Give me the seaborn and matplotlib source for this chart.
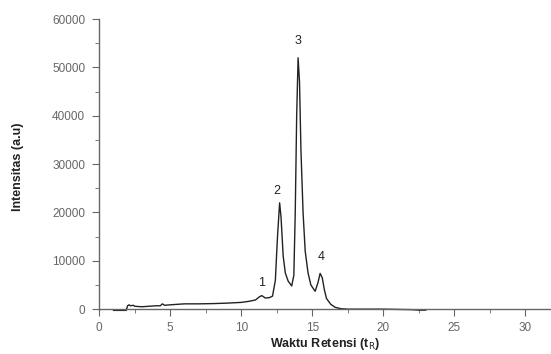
import numpy as np
import matplotlib
matplotlib.use("Agg")
import matplotlib.pyplot as plt
import seaborn as sns
from matplotlib.ticker import MultipleLocator

# retention time (min) and intensity (a.u)
waktu = [1.0, 1.9, 2.0, 2.1, 2.2, 2.4, 2.5, 3.0, 3.5, 4.0, 4.3, 4.45, 4.6, 5.0,
         5.5, 6.0, 7.0, 8.0, 9.0, 10.0, 10.5, 11.0, 11.3, 11.45, 11.7, 12.0,
         12.2, 12.4, 12.55, 12.7, 12.8, 12.95, 13.1, 13.3, 13.55, 13.7, 13.8,
         13.9, 14.0, 14.1, 14.2, 14.35, 14.5, 14.7, 14.9, 15.2, 15.4, 15.55,
         15.7, 15.85, 16.0, 16.3, 16.6, 17.0, 17.5, 18.0, 20.0, 22.0, 22.5, 23.0]
intensitas = [-250, -250, 700, 900, 700, 800, 600, 500, 600, 700, 700, 1100, 800, 900,
              1000, 1100, 1100, 1150, 1250, 1400, 1600, 1900, 2600, 2800, 2300, 2400,
              2700, 6000, 15000, 22000, 19000, 11000, 7500, 5800, 4800, 7000, 20000,
              40000, 52000, 47000, 33000, 20000, 12000, 7500, 5000, 3700, 5500, 7400,
              6500, 4000, 2200, 1000, 400, 100, 0, 0, 0, -100, -200, -200]

puncak = ["1", "2", "3", "4"]
puncak_x = [11.4, 12.5, 14.0, 15.6]
puncak_y = [5400, 24400, 55400, 10800]

sns.set_style("white")
plt.rcParams['font.family'] = ['Liberation Sans', 'DejaVu Sans']

fig = plt.figure(figsize=(5.51, 3.54), dpi=100)
ax = fig.add_axes([0.18, 0.113, 0.82, 0.833])

sns.lineplot(x=waktu, y=intensitas, ax=ax, color="#222222", lw=1.0, sort=False)

for lab, px, py in zip(puncak, puncak_x, puncak_y):
    ax.text(px, py, lab, ha="center", va="center", fontsize=9, color="#222222")

ax.set_xlim(0, 31.8)
ax.set_ylim(-1000, 60000)

gray = "#666666"
for s in ["top", "right"]:
    ax.spines[s].set_visible(False)
ax.spines["bottom"].set_position(("data", 0))
ax.spines["left"].set_bounds(-200, 60000)
ax.spines["bottom"].set_color(gray)
ax.spines["left"].set_color(gray)
ax.spines["bottom"].set_linewidth(1.0)
ax.spines["left"].set_linewidth(1.0)

ax.xaxis.set_major_locator(MultipleLocator(5))
ax.xaxis.set_minor_locator(MultipleLocator(2.5))
ax.yaxis.set_major_locator(MultipleLocator(10000))
ax.yaxis.set_minor_locator(MultipleLocator(5000))
ax.tick_params(which="both", direction="out", colors=gray, labelsize=8.5,
               bottom=True, left=True)
ax.tick_params(which="major", length=5, width=0.8)
ax.tick_params(which="minor", length=3, width=0.6)
ax.tick_params(axis="x", pad=4)
ax.tick_params(axis="y", pad=5)

ax.set_xlabel("Waktu Retensi (t$_\\mathrm{R}$)", fontsize=9, fontweight="bold",
              color="#222222", labelpad=2)
ax.set_ylabel("Intensitas (a.u)", fontsize=9, fontweight="bold",
              color="#222222", labelpad=20)

fig.savefig("out.png", dpi=100)
